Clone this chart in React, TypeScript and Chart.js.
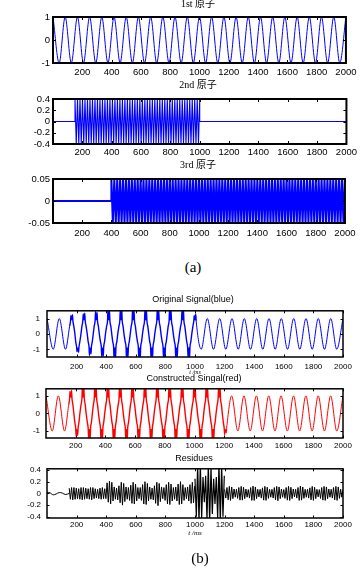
import React, { useEffect, useRef } from "react";
import { Chart, registerables } from "chart.js";

Chart.register(...registerables);

// ---------- axis ticks ----------
const X_TICKS = [200, 400, 600, 800, 1000, 1200, 1400, 1600, 1800, 2000];
const UNIT_TICKS = [-1, 0, 1];
const ATOM2_TICKS = [-0.4, -0.2, 0, 0.2, 0.4];
const ATOM3_TICKS = [-0.05, 0, 0.05];
const RESIDUE_TICKS = [-0.4, -0.2, 0, 0.2, 0.4];

// ---------- (a) 1st atom: extrema of the sinusoid ----------
const atom1X = [0, 42, 83, 125, 167, 208, 250, 292, 333, 375, 417, 458, 500, 542, 583, 625, 667, 708, 750, 792,
  833, 875, 917, 958, 1000, 1042, 1083, 1125, 1167, 1208, 1250, 1292, 1333, 1375, 1417, 1458, 1500, 1542, 1583,
  1625, 1667, 1708, 1750, 1792, 1833, 1875, 1917, 1958, 2000];
const atom1Y = [1, -1, 1, -1, 1, -1, 1, -1, 1, -1,
  1, -1, 1, -1, 1, -1, 1, -1, 1, -1,
  1, -1, 1, -1, 1, -1, 1, -1, 1, -1,
  1, -1, 1, -1, 1, -1, 1, -1, 1, -1,
  1, -1, 1, -1, 1, -1, 1, -1, 1];

// ---------- (a) 2nd atom ----------
const atom2Before = [[0, 0], [150, 0]];
const atom2Start = 150;
const atom2Step = 8.5;
const atom2Values = [
  0.4, -0.4, 0.4, -0.4, 0.4, -0.4, 0.4, -0.4, 0.4, -0.4,
  0.4, -0.4, 0.4, -0.4, 0.4, -0.4, 0.4, -0.4, 0.4, -0.4,
  0.4, -0.4, 0.4, -0.4, 0.4, -0.4, 0.4, -0.4, 0.4, -0.4,
  0.4, -0.4, 0.4, -0.4, 0.4, -0.4, 0.4, -0.4, 0.4, -0.4,
  0.4, -0.4, 0.4, -0.4, 0.4, -0.4, 0.4, -0.4, 0.4, -0.4,
  0.4, -0.4, 0.4, -0.4, 0.4, -0.4, 0.4, -0.4, 0.4, -0.4,
  0.4, -0.4, 0.4, -0.4, 0.4, -0.4, 0.4, -0.4, 0.4, -0.4,
  0.4, -0.4, 0.4, -0.4, 0.4, -0.4, 0.4, -0.4, 0.4, -0.4,
  0.4, -0.4, 0.4, -0.4, 0.4, -0.4, 0.4, -0.4, 0.4, -0.4,
  0.4, -0.4, 0.4, -0.4, 0.4, -0.4, 0.4, -0.4, 0.4, -0.4,
  0.4];
const atom2After = [[1000, 0], [2000, 0]];

// ---------- (a) 3rd atom ----------
const atom3Before = [[0, 0], [400, 0]];
const atom3Start = 400;
const atom3Step = 10;
const atom3Values = [
  0.05, -0.05, 0.05, -0.05, 0.05, -0.05, 0.05, -0.05, 0.05, -0.05,
  0.05, -0.05, 0.05, -0.05, 0.05, -0.05, 0.05, -0.05, 0.05, -0.05,
  0.05, -0.05, 0.05, -0.05, 0.05, -0.05, 0.05, -0.05, 0.05, -0.05,
  0.05, -0.05, 0.05, -0.05, 0.05, -0.05, 0.05, -0.05, 0.05, -0.05,
  0.05, -0.05, 0.05, -0.05, 0.05, -0.05, 0.05, -0.05, 0.05, -0.05,
  0.05, -0.05, 0.05, -0.05, 0.05, -0.05, 0.05, -0.05, 0.05, -0.05,
  0.05, -0.05, 0.05, -0.05, 0.05, -0.05, 0.05, -0.05, 0.05, -0.05,
  0.05, -0.05, 0.05, -0.05, 0.05, -0.05, 0.05, -0.05, 0.05, -0.05,
  0.05, -0.05, 0.05, -0.05, 0.05, -0.05, 0.05, -0.05, 0.05, -0.05,
  0.05, -0.05, 0.05, -0.05, 0.05, -0.05, 0.05, -0.05, 0.05, -0.05,
  0.05, -0.05, 0.05, -0.05, 0.05, -0.05, 0.05, -0.05, 0.05, -0.05,
  0.05, -0.05, 0.05, -0.05, 0.05, -0.05, 0.05, -0.05, 0.05, -0.05,
  0.05, -0.05, 0.05, -0.05, 0.05, -0.05, 0.05, -0.05, 0.05, -0.05,
  0.05, -0.05, 0.05, -0.05, 0.05, -0.05, 0.05, -0.05, 0.05, -0.05,
  0.05, -0.05, 0.05, -0.05, 0.05, -0.05, 0.05, -0.05, 0.05, -0.05,
  0.05, -0.05, 0.05, -0.05, 0.05, -0.05, 0.05, -0.05, 0.05, -0.05,
  0.05];

// ---------- (b) original signal (blue) ----------
const originalNoisyStart = 150;
const originalNoisyEnd = 1008;
const originalPoints = [
  [0, 1], [42, -1], [83, 1], [125, -1],
  [153, 0.5], [159, 0.85], [162, 1.2], [164, 0.93], [167, 1.0], [170, 0.93], [172, 1.25], [175, 0.85], [181, 0.5], [188, 0.04],
  [194, -0.5], [200, -0.85], [203, -1.15], [205, -0.93], [208, -1.0], [211, -0.93], [213, -1.2], [216, -0.85], [222, -0.5], [229, -0.05],
  [236, 0.5], [242, 0.85], [245, 1.3], [247, 0.93], [250, 1.0], [253, 0.93], [255, 1.35], [258, 0.85], [264, 0.5], [271, 0.06],
  [278, -0.5], [284, -0.85], [287, -1.4], [289, -0.93], [292, -1.0], [295, -0.93], [297, -1.3], [300, -0.85], [306, -0.5], [313, 0.04],
  [319, 0.5], [325, 0.85], [328, 1.45], [330, 0.93], [333, 1.0], [336, 0.93], [338, 1.4], [341, 0.85], [347, 0.5], [354, -0.05],
  [361, -0.5], [367, -0.85], [370, -1.5], [372, -0.93], [375, -1.0], [378, -0.93], [380, -1.45], [383, -0.85], [389, -0.5], [396, 0.06],
  [403, 0.5], [409, 0.85], [412, 1.6], [414, 0.93], [417, 1.0], [420, 0.93], [422, 1.5], [425, 0.85], [431, 0.5], [438, -0.04],
  [444, -0.5], [450, -0.85], [453, -1.6], [455, -0.93], [458, -1.0], [461, -0.93], [463, -1.55], [466, -0.85], [472, -0.5], [479, 0.05],
  [486, 0.5], [492, 0.85], [495, 1.55], [497, 0.93], [500, 1.0], [503, 0.93], [505, 1.6], [508, 0.85], [514, 0.5], [521, -0.06],
  [528, -0.5], [534, -0.85], [537, -1.6], [539, -0.93], [542, -1.0], [545, -0.93], [547, -1.5], [550, -0.85], [556, -0.5], [563, 0.04],
  [569, 0.5], [575, 0.85], [578, 1.6], [580, 0.93], [583, 1.0], [586, 0.93], [588, 1.55], [591, 0.85], [597, 0.5], [604, -0.05],
  [611, -0.5], [617, -0.85], [620, -1.55], [622, -0.93], [625, -1.0], [628, -0.93], [630, -1.6], [633, -0.85], [639, -0.5], [646, 0.06],
  [653, 0.5], [659, 0.85], [662, 1.6], [664, 0.93], [667, 1.0], [670, 0.93], [672, 1.5], [675, 0.85], [681, 0.5], [688, -0.04],
  [694, -0.5], [700, -0.85], [703, -1.6], [705, -0.93], [708, -1.0], [711, -0.93], [713, -1.55], [716, -0.85], [722, -0.5], [729, 0.05],
  [736, 0.5], [742, 0.85], [745, 1.6], [747, 0.93], [750, 1.0], [753, 0.93], [755, 1.5], [758, 0.85], [764, 0.5], [771, -0.06],
  [778, -0.5], [784, -0.85], [787, -1.5], [789, -0.93], [792, -1.0], [795, -0.93], [797, -1.6], [800, -0.85], [806, -0.5], [813, 0.04],
  [819, 0.5], [825, 0.85], [828, 1.6], [830, 0.93], [833, 1.0], [836, 0.93], [838, 1.55], [841, 0.85], [847, 0.5], [854, -0.05],
  [861, -0.5], [867, -0.85], [870, -1.6], [872, -0.93], [875, -1.0], [878, -0.93], [880, -1.5], [883, -0.85], [889, -0.5], [896, 0.06],
  [903, 0.5], [909, 0.85], [912, 1.55], [914, 0.93], [917, 1.0], [920, 0.93], [922, 1.6], [925, 0.85], [931, 0.5], [938, -0.04],
  [944, -0.5], [950, -0.85], [953, -1.5], [955, -0.93], [958, -1.0], [961, -0.93], [963, -1.6], [966, -0.85], [972, -0.5], [979, 0.05],
  [986, 0.5], [992, 0.85], [995, 1.2], [997, 0.93], [1000, 1.0], [1003, 0.93], [1005, 1.3], [1008, 0.85],
  [1042, -1], [1083, 1], [1125, -1], [1167, 1], [1208, -1], [1250, 1], [1292, -1], [1333, 1],
  [1375, -1], [1417, 1], [1458, -1], [1500, 1], [1542, -1], [1583, 1], [1625, -1], [1667, 1],
  [1708, -1], [1750, 1], [1792, -1], [1833, 1], [1875, -1], [1917, 1], [1958, -1], [2000, 1],
];

// ---------- (b) constructed signal (red) ----------
const constructedNoisyStart = 150;
const constructedNoisyEnd = 1216;
const constructedPoints = [
  [0, 1], [42, -1], [83, 1], [125, -1],
  [153, 0.5], [159, 0.85], [162, 1.25], [164, 0.93], [167, 1.0], [170, 0.93], [172, 1.3], [175, 0.85], [181, 0.5], [188, -0.04],
  [194, -0.5], [200, -0.85], [203, -1.3], [205, -0.93], [208, -1.0], [211, -0.93], [213, -1.25], [216, -0.85], [222, -0.5], [229, 0.05],
  [236, 0.5], [242, 0.85], [245, 1.5], [247, 0.93], [250, 1.0], [253, 0.93], [255, 1.45], [258, 0.85], [264, 0.5], [271, -0.05],
  [278, -0.5], [284, -0.85], [287, -1.45], [289, -0.93], [292, -1.0], [295, -0.93], [297, -1.5], [300, -0.85], [306, -0.5], [313, 0.06],
  [319, 0.5], [325, 0.85], [328, 1.5], [330, 0.93], [333, 1.0], [336, 0.93], [338, 1.45], [341, 0.85], [347, 0.5], [354, -0.04],
  [361, -0.5], [367, -0.85], [370, -1.5], [372, -0.93], [375, -1.0], [378, -0.93], [380, -1.45], [383, -0.85], [389, -0.5], [396, 0.05],
  [403, 0.5], [409, 0.85], [412, 1.45], [414, 0.93], [417, 1.0], [420, 0.93], [422, 1.5], [425, 0.85], [431, 0.5], [438, -0.06],
  [444, -0.5], [450, -0.85], [453, -1.5], [455, -0.93], [458, -1.0], [461, -0.93], [463, -1.45], [466, -0.85], [472, -0.5], [479, 0.04],
  [486, 0.5], [492, 0.85], [495, 1.5], [497, 0.93], [500, 1.0], [503, 0.93], [505, 1.45], [508, 0.85], [514, 0.5], [521, -0.05],
  [528, -0.5], [534, -0.85], [537, -1.45], [539, -0.93], [542, -1.0], [545, -0.93], [547, -1.5], [550, -0.85], [556, -0.5], [563, 0.06],
  [569, 0.5], [575, 0.85], [578, 1.5], [580, 0.93], [583, 1.0], [586, 0.93], [588, 1.45], [591, 0.85], [597, 0.5], [604, -0.04],
  [611, -0.5], [617, -0.85], [620, -1.5], [622, -0.93], [625, -1.0], [628, -0.93], [630, -1.45], [633, -0.85], [639, -0.5], [646, 0.05],
  [653, 0.5], [659, 0.85], [662, 1.45], [664, 0.93], [667, 1.0], [670, 0.93], [672, 1.5], [675, 0.85], [681, 0.5], [688, -0.06],
  [694, -0.5], [700, -0.85], [703, -1.5], [705, -0.93], [708, -1.0], [711, -0.93], [713, -1.45], [716, -0.85], [722, -0.5], [729, 0.04],
  [736, 0.5], [742, 0.85], [745, 1.5], [747, 0.93], [750, 1.0], [753, 0.93], [755, 1.45], [758, 0.85], [764, 0.5], [771, -0.05],
  [778, -0.5], [784, -0.85], [787, -1.45], [789, -0.93], [792, -1.0], [795, -0.93], [797, -1.5], [800, -0.85], [806, -0.5], [813, 0.06],
  [819, 0.5], [825, 0.85], [828, 1.5], [830, 0.93], [833, 1.0], [836, 0.93], [838, 1.45], [841, 0.85], [847, 0.5], [854, -0.04],
  [861, -0.5], [867, -0.85], [870, -1.5], [872, -0.93], [875, -1.0], [878, -0.93], [880, -1.45], [883, -0.85], [889, -0.5], [896, 0.05],
  [903, 0.5], [909, 0.85], [912, 1.45], [914, 0.93], [917, 1.0], [920, 0.93], [922, 1.5], [925, 0.85], [931, 0.5], [938, -0.06],
  [944, -0.5], [950, -0.85], [953, -1.5], [955, -0.93], [958, -1.0], [961, -0.93], [963, -1.45], [966, -0.85], [972, -0.5], [979, 0.04],
  [986, 0.5], [992, 0.85], [995, 1.5], [997, 0.93], [1000, 1.0], [1003, 0.93], [1005, 1.45], [1008, 0.85], [1014, 0.5], [1021, -0.05],
  [1028, -0.5], [1034, -0.85], [1037, -1.45], [1039, -0.93], [1042, -1.0], [1045, -0.93], [1047, -1.5], [1050, -0.85], [1056, -0.5], [1063, 0.06],
  [1069, 0.5], [1075, 0.85], [1078, 1.5], [1080, 0.93], [1083, 1.0], [1086, 0.93], [1088, 1.45], [1091, 0.85], [1097, 0.5], [1104, -0.04],
  [1111, -0.5], [1117, -0.85], [1120, -1.5], [1122, -0.93], [1125, -1.0], [1128, -0.93], [1130, -1.45], [1133, -0.85], [1139, -0.5], [1146, 0.05],
  [1153, 0.5], [1159, 0.85], [1162, 1.45], [1164, 0.93], [1167, 1.0], [1170, 0.93], [1172, 1.5], [1175, 0.85], [1181, 0.5], [1188, -0.06],
  [1194, -0.5], [1200, -0.85], [1203, -1.2], [1205, -0.93], [1208, -1.0], [1211, -0.93], [1213, -1.1], [1216, -0.85],
  [1250, 1], [1292, -1], [1333, 1], [1375, -1], [1417, 1], [1458, -1], [1500, 1], [1542, -1],
  [1583, 1], [1625, -1], [1667, 1], [1708, -1], [1750, 1], [1792, -1], [1833, 1], [1875, -1],
  [1917, 1], [1958, -1], [2000, 1],
];

// ---------- (b) residues (black) ----------
const residueHead = [[0, 0.02], [21, 0.01], [42, -0.025], [62, -0.01], [83, 0.015], [104, 0.005], [125, -0.02], [150, 0]];
const residueBodyStart = 150;
const residueBodyStep = 8;
const residueBodyValues = [
  0.09, -0.1, 0.1, -0.11, 0.1, -0.1, 0.09, -0.09, 0.08, -0.1,
  0.1, -0.11, 0.1, -0.1, 0.09, -0.09, 0.08, -0.1, 0.1, -0.11,
  0.1, -0.09, 0.08, -0.08, 0.07, -0.09, 0.09, -0.1, 0.1, -0.09,
  0.08, -0.09,
  0.18, -0.15, 0.21, -0.18, 0.19, -0.13, 0.11, -0.1, 0.09, -0.11,
  0.13, -0.16, 0.19, -0.2, 0.17, -0.14, 0.11, -0.1, 0.1, -0.12,
  0.14, -0.17, 0.19, -0.18, 0.16, -0.13, 0.1, -0.09, 0.1, -0.12,
  0.15, -0.18, 0.2, -0.19, 0.17, -0.13, 0.11, -0.1, 0.09, -0.11,
  0.13, -0.17, 0.19, -0.21, 0.17, -0.14, 0.11, -0.09, 0.1, -0.12,
  0.15, -0.18, 0.19, -0.19, 0.16, -0.13, 0.1, -0.1, 0.11, -0.13,
  0.16, -0.19, 0.2, -0.18, 0.15, -0.12, 0.1, -0.09, 0.11, -0.13,
  0.15, -0.17, 0.19, -0.16, 0.13];
const residueBurstStart = 1000;
const residueBurstStep = 9;
const residueBurstValues = [0.25, -0.4, 0.5, -0.5, 0.5, -0.42, 0.28, -0.15, 0.3, -0.45, 0.5, -0.5,
  0.45, -0.35, 0.25, -0.18, 0.28, -0.42, 0.5, -0.5, 0.48, -0.4, 0.3];
const residueTailStart = 1200;
const residueTailStep = 8;
const residueTailValues = [
  0.07, -0.08, 0.1, -0.11, 0.12, -0.12, 0.11, -0.09, 0.075, -0.065,
  0.07, -0.085, 0.1, -0.115, 0.12, -0.115, 0.105, -0.09, 0.075, -0.065,
  0.065, -0.08, 0.1, -0.12, 0.125, -0.12, 0.11, -0.09, 0.07, -0.06,
  0.07, -0.08, 0.095, -0.115, 0.12, -0.12, 0.105, -0.085, 0.07, -0.065,
  0.07, -0.08, 0.1, -0.11, 0.12, -0.125, 0.11, -0.09, 0.075, -0.065,
  0.065, -0.085, 0.1, -0.115, 0.12, -0.12, 0.105, -0.09, 0.075, -0.06,
  0.07, -0.08, 0.1, -0.12, 0.125, -0.115, 0.11, -0.085, 0.07, -0.065,
  0.07, -0.08, 0.095, -0.11, 0.12, -0.12, 0.105, -0.09, 0.07, -0.06,
  0.065, -0.085, 0.1, -0.115, 0.12, -0.12, 0.11, -0.09, 0.075, -0.065,
  0.07, -0.08, 0.1, -0.11, 0.12, -0.12, 0.11, -0.085, 0.07, -0.065,
  0.07];

// ---------- helpers ----------
const fromPairs = (pairs: number[][]) => pairs.map(([x, y]) => ({ x, y }));
const fromXY = (xs: number[], ys: number[]) => xs.map((x, i) => ({ x, y: ys[i] }));
const sampled = (start: number, step: number, values: number[]) => values.map((y, i) => ({ x: start + i * step, y }));

const FONT_A = { family: "'Liberation Sans Narrow', 'Liberation Sans', Arial, sans-serif", size: 9.5 };
const FONT_B = { family: "'Liberation Sans', Arial, sans-serif", size: 8 };
const SERIF = "'Liberation Serif', 'Noto Sans CJK SC', serif";
const SANS = "'Liberation Sans', Arial, sans-serif";

function lineSet(data: any[], color: string, width: number, smooth: boolean, extra: any = {}) {
  return {
    data,
    borderColor: color,
    borderWidth: width,
    pointRadius: 0,
    fill: false,
    tension: 0,
    cubicInterpolationMode: smooth ? "monotone" : "default",
    clip: 0,
    ...extra,
  };
}

function noisySegment(data: any[], from: number, to: number, thick: number, thin: number) {
  return {
    borderWidth: (c: any) => {
      const a = data[c.p0DataIndex];
      const b = data[c.p1DataIndex];
      return a && b && a.x >= from && b.x <= to ? thick : thin;
    },
  };
}

type Box = { l: number; r: number; t: number; b: number };
type PanelProps = {
  box: Box;
  xAxisH: number;
  xPad: number;
  yPad: number;
  yMin: number;
  yMax: number;
  yTicks: number[];
  font: { family: string; size: number };
  frameWidth: number;
  tickLen: number;
  datasets: any[];
};

const PAD_T = 10;

function Panel(p: PanelProps) {
  const ref = useRef<HTMLCanvasElement>(null);
  const top = p.box.t - PAD_T;
  const height = p.box.b - top + p.xAxisH;
  useEffect(() => {
    const frame = {
      id: "frame",
      afterDatasetsDraw(chart: any) {
        const { ctx, chartArea: a, scales } = chart;
        ctx.save();
        ctx.strokeStyle = "#000";
        ctx.lineWidth = 1;
        ctx.beginPath();
        for (const t of scales.x.ticks) {
          const px = Math.round(scales.x.getPixelForValue(t.value)) + 0.5;
          ctx.moveTo(px, a.bottom);
          ctx.lineTo(px, a.bottom - p.tickLen);
          ctx.moveTo(px, a.top);
          ctx.lineTo(px, a.top + p.tickLen);
        }
        for (const t of scales.y.ticks) {
          const py = Math.round(scales.y.getPixelForValue(t.value)) + 0.5;
          ctx.moveTo(a.left, py);
          ctx.lineTo(a.left + p.tickLen, py);
          ctx.moveTo(a.right, py);
          ctx.lineTo(a.right - p.tickLen, py);
        }
        ctx.stroke();
        ctx.lineWidth = p.frameWidth;
        ctx.strokeRect(a.left, a.top, a.right - a.left, a.bottom - a.top);
        ctx.restore();
      },
    };
    const chart = new Chart(ref.current as HTMLCanvasElement, {
      type: "line",
      data: { datasets: p.datasets },
      options: {
        responsive: false,
        animation: false,
        events: [],
        layout: { padding: { top: PAD_T, right: 360 - p.box.r, bottom: 0, left: 0 } },
        plugins: { legend: { display: false }, tooltip: { enabled: false }, title: { display: false } },
        elements: { point: { radius: 0 } },
        scales: {
          x: {
            type: "linear",
            min: 0,
            max: 2000,
            grid: { display: false, drawTicks: false },
            border: { display: false },
            afterBuildTicks: (s: any) => {
              s.ticks = X_TICKS.map((v) => ({ value: v }));
            },
            afterFit: (s: any) => {
              s.height = p.xAxisH;
            },
            ticks: {
              padding: p.xPad,
              color: "#000",
              font: p.font,
              maxRotation: 0,
              minRotation: 0,
              autoSkip: false,
              callback: (v: any) => String(v),
            },
          },
          y: {
            type: "linear",
            min: p.yMin,
            max: p.yMax,
            grid: { display: false, drawTicks: false },
            border: { display: false },
            afterBuildTicks: (s: any) => {
              s.ticks = p.yTicks.map((v) => ({ value: v }));
            },
            afterFit: (s: any) => {
              s.width = p.box.l;
            },
            ticks: {
              padding: p.yPad,
              color: "#000",
              font: p.font,
              autoSkip: false,
              callback: (v: any) => String(v),
            },
          },
        },
      } as any,
      plugins: [frame],
    });
    return () => chart.destroy();
  }, []);
  return (
    <canvas
      ref={ref}
      width={360}
      height={height}
      style={{ position: "absolute", left: 0, top, width: 360, height }}
    />
  );
}

function Label(props: { text: string; cx: number; cy: number; size: number; family: string; italic?: boolean }) {
  const { text, cx, cy, size, family, italic } = props;
  return (
    <div
      style={{
        position: "absolute",
        left: cx - 100,
        width: 200,
        top: cy - size * 0.6,
        textAlign: "center",
        fontSize: size,
        lineHeight: `${size * 1.2}px`,
        fontFamily: family,
        fontStyle: italic ? "italic" : "normal",
        whiteSpace: "nowrap",
        color: "#000",
      }}
    >
      {text}
    </div>
  );
}

export default function App() {
  const atom1Data = fromXY(atom1X, atom1Y);
  const atom2Data = [...fromPairs(atom2Before), ...sampled(atom2Start, atom2Step, atom2Values), ...fromPairs(atom2After)];
  const atom3Data = [...fromPairs(atom3Before), ...sampled(atom3Start, atom3Step, atom3Values)];
  const originalData = fromPairs(originalPoints);
  const constructedData = fromPairs(constructedPoints);

  const panels: PanelProps[] = [
    {
      box: { l: 53, r: 347, t: 17, b: 63 }, xAxisH: 18, xPad: 3.5, yPad: 3,
      yMin: -1, yMax: 1, yTicks: UNIT_TICKS, font: FONT_A, frameWidth: 2, tickLen: 3,
      datasets: [lineSet(atom1Data, "#0000ff", 1, true)],
    },
    {
      box: { l: 53, r: 347, t: 99, b: 144 }, xAxisH: 18, xPad: 3, yPad: 3,
      yMin: -0.4, yMax: 0.4, yTicks: ATOM2_TICKS, font: FONT_A, frameWidth: 2, tickLen: 3,
      datasets: [lineSet(atom2Data, "#0000ff", 1.1, false)],
    },
    {
      box: { l: 53, r: 347, t: 179, b: 223 }, xAxisH: 18, xPad: 4.5, yPad: 3,
      yMin: -0.05, yMax: 0.05, yTicks: ATOM3_TICKS, font: FONT_A, frameWidth: 2, tickLen: 3,
      datasets: [lineSet(atom3Data, "#0000ff", 2, false)],
    },
    {
      box: { l: 47, r: 343, t: 309, b: 357 }, xAxisH: 14, xPad: 5, yPad: 7,
      yMin: -1.5, yMax: 1.5, yTicks: UNIT_TICKS, font: FONT_B, frameWidth: 1.5, tickLen: 2.5,
      datasets: [lineSet(originalData, "#0000ff", 1, true, {
        segment: noisySegment(originalData, originalNoisyStart, originalNoisyEnd, 1.4, 1),
      })],
    },
    {
      box: { l: 46, r: 343, t: 388, b: 438 }, xAxisH: 14, xPad: 3, yPad: 6,
      yMin: -1.4, yMax: 1.4, yTicks: UNIT_TICKS, font: FONT_B, frameWidth: 1.5, tickLen: 2.5,
      datasets: [lineSet(constructedData, "#ff0000", 1, true, {
        segment: noisySegment(constructedData, constructedNoisyStart, constructedNoisyEnd, 1.4, 1),
      })],
    },
    {
      box: { l: 47, r: 343, t: 468, b: 518 }, xAxisH: 14, xPad: 2, yPad: 6,
      yMin: -0.42, yMax: 0.42, yTicks: RESIDUE_TICKS, font: FONT_B, frameWidth: 1.5, tickLen: 2.5,
      datasets: [
        lineSet(fromPairs(residueHead), "#000000", 1, true),
        lineSet(sampled(residueBodyStart, residueBodyStep, residueBodyValues), "#000000", 1, false),
        lineSet(sampled(residueBurstStart, residueBurstStep, residueBurstValues), "#000000", 1.2, false),
        lineSet(sampled(residueTailStart, residueTailStep, residueTailValues), "#000000", 1, false),
      ],
    },
  ];

  return (
    <div style={{ position: "absolute", left: 0, top: 0, width: 360, height: 570, background: "#fff", overflow: "hidden" }}>
      {panels.map((p, i) => (
        <Panel key={i} {...p} />
      ))}
      <Label text="1st 原子" cx={198} cy={4} size={10} family={SERIF} />
      <Label text="2nd 原子" cx={198} cy={85} size={10} family={SERIF} />
      <Label text="3rd 原子" cx={198} cy={165} size={10} family={SERIF} />
      <Label text="(a)" cx={193} cy={267} size={15} family={SERIF} />
      <Label text="Original Signal(blue)" cx={193} cy={299} size={9} family={SANS} />
      <Label text="t /ms" cx={195} cy={373} size={6} family={SERIF} italic />
      <Label text="Constructed Singal(red)" cx={194} cy={378} size={9} family={SANS} />
      <Label text="Residues" cx={194} cy={458} size={9} family={SANS} />
      <Label text="t /ms" cx={195} cy={533} size={7} family={SERIF} italic />
      <Label text="(b)" cx={200} cy={558} size={15} family={SERIF} />
    </div>
  );
}
